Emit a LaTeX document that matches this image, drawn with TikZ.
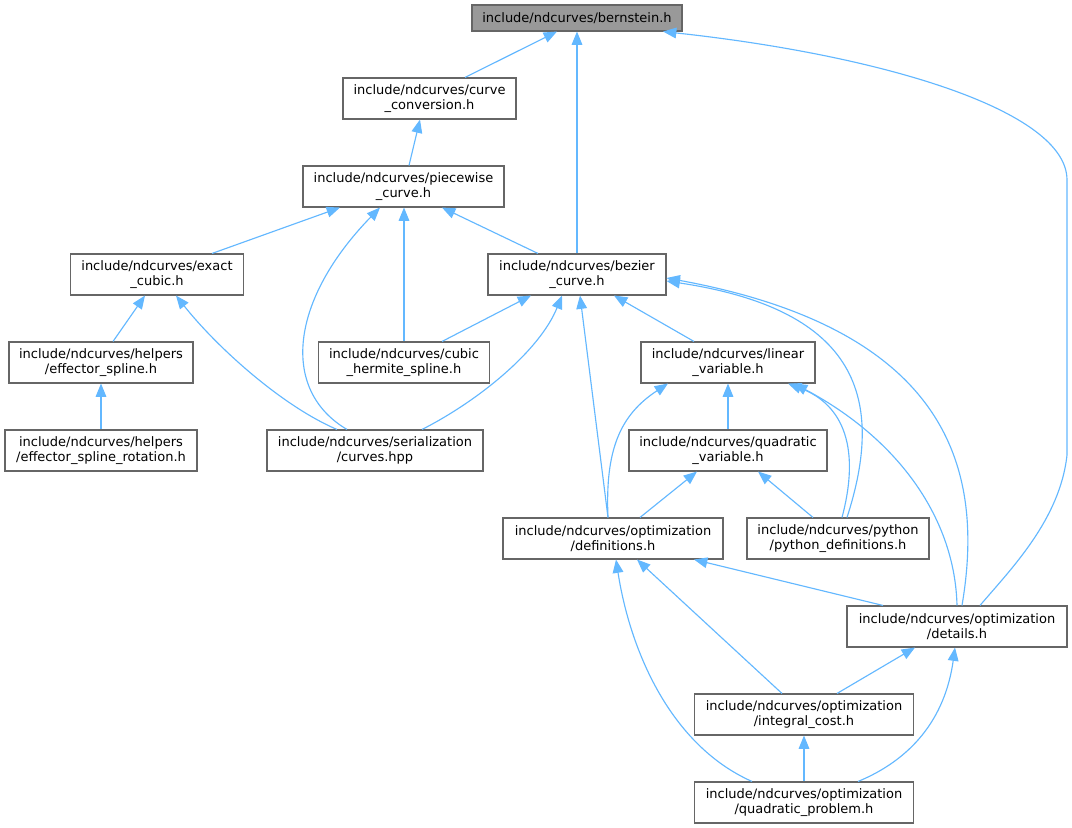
\documentclass[tikz,border=0pt]{standalone}
\usepackage{fontspec}
\setmainfont{DejaVu Sans}
\usetikzlibrary{arrows.meta,calc}
\definecolor{edgec}{HTML}{63B8FF}
\definecolor{boxc}{HTML}{666666}
\definecolor{rootc}{HTML}{999999}
\tikzset{
  box/.style={draw=boxc, line width=0.8pt, fill=white, align=center, inner sep=0pt,
    minimum height=30.75pt, font=\fontsize{9.75}{11}\selectfont, text=black},
  rootbox/.style={box, fill=rootc, minimum height=19.5pt},
  edge/.style={draw=edgec, line width=0.85pt, -{Triangle[length=10pt,width=8pt]}}
}
\begin{document}
\begin{tikzpicture}[x=0.75pt,y=-0.75pt]
\useasboundingbox (0,0) rectangle (1072,828);
\fill[white] (0,0) rectangle (1072,828);
% nodes
\node[rootbox, minimum width=157.5pt] (bern) at (577,18) {include/ndcurves/bernstein.h};
\node[box, minimum width=129.75pt] (cc) at (429.5,98.5) {include/ndcurves/curve\\\_conversion.h};
\node[box, minimum width=150.75pt] (pw) at (403.5,186.5) {include/ndcurves/piecewise\\\_curve.h};
\node[box, minimum width=129.75pt] (ex) at (157,274.5) {include/ndcurves/exact\\\_cubic.h};
\node[box, minimum width=133.5pt] (bz) at (577,274.5) {include/ndcurves/bezier\\\_curve.h};
\node[box, minimum width=138pt] (es) at (101,362.5) {include/ndcurves/helpers\\/effector\_spline.h};
\node[box, minimum width=128.25pt] (ch) at (404,362.5) {include/ndcurves/cubic\\\_hermite\_spline.h};
\node[box, minimum width=130.5pt] (lv) at (728,362.5) {include/ndcurves/linear\\\_variable.h};
\node[box, minimum width=144pt] (esr) at (101,450.5) {include/ndcurves/helpers\\/effector\_spline\_rotation.h};
\node[box, minimum width=162pt] (ser) at (375,450.5) {include/ndcurves/serialization\\/curves.hpp};
\node[box, minimum width=148.5pt] (qv) at (728,450.5) {include/ndcurves/quadratic\\\_variable.h};
\node[box, minimum width=165pt] (def) at (613,538.5) {include/ndcurves/optimization\\/definitions.h};
\node[box, minimum width=136.5pt] (py) at (838,538.5) {include/ndcurves/python\\/python\_definitions.h};
\node[box, minimum width=165pt] (det) at (957,626.5) {include/ndcurves/optimization\\/details.h};
\node[box, minimum width=164.25pt] (ic) at (804,714.5) {include/ndcurves/optimization\\/integral\_cost.h};
\node[box, minimum width=164.25pt] (qp) at (804,802.5) {include/ndcurves/optimization\\/quadratic\_problem.h};
% edges
\draw[edge] ($(cc.north)+(35.5,0)$) -- ($(bern.south)+(-20,0)$);
\draw[edge] (bz.north) -- (bern.south);
\draw[edge] ($(det.north)+(23,0)$) .. controls (1010,570) and (1060,520) .. (1067,455)
  -- (1067,180) .. controls (1067,110) and (880,55) .. ($(bern.south)+(86,0)$);
\draw[edge] ($(pw.north)+(5.5,0)$) -- ($(cc.south)+(-9.5,0)$);
\draw[edge] ($(ex.north)+(55,0)$) -- ($(pw.south)+(-63.5,0)$);
\draw[edge] ($(ser.north)+(-28,0)$) .. controls (280,390) and (290,300) .. ($(pw.south)+(-23.5,0)$);
\draw[edge] (ch.north) -- (ch.north |- pw.south);
\draw[edge] ($(bz.north)+(-39,0)$) -- ($(pw.south)+(38.5,0)$);
\draw[edge] ($(es.north)+(12,0)$) -- ($(ex.south)+(-12,0)$);
\draw[edge] ($(ser.north)+(-38,0)$) .. controls (280,405) and (215,345) .. ($(ex.south)+(19,0)$);
\draw[edge] (esr.north) -- (es.south);
\draw[edge] ($(ch.north)+(38,0)$) -- ($(bz.south)+(-46,0)$);
\draw[edge] ($(ser.north)+(47,0)$) .. controls (480,400) and (540,350) .. ($(bz.south)+(-15,0)$);
\draw[edge] ($(def.north)+(-5,0)$) -- ($(bz.south)+(3,0)$);
\draw[edge] ($(lv.north)+(-34,0)$) -- ($(bz.south)+(37,0)$);
\draw[edge] ($(py.north)+(9,0)$) .. controls (885,400) and (860,310) .. ($(bz.east)+(0,6.5)$);
\draw[edge] ($(det.north)+(5,0)$) .. controls (985,470) and (950,330) .. ($(bz.east)+(0,3.5)$);
\draw[edge] (qv.north) -- (lv.south);
\draw[edge] ($(def.north)+(-5,0)$) .. controls (605,450) and (620,415) .. ($(lv.south)+(-60,0)$);
\draw[edge] ($(py.north)+(4,0)$) .. controls (860,450) and (845,405) .. ($(lv.south)+(60,0)$);
\draw[edge] (det.north) .. controls (955,520) and (900,440) .. ($(lv.south)+(66,0)$);
\draw[edge] ($(def.north)+(27,0)$) -- ($(qv.south)+(-31,0)$);
\draw[edge] ($(py.north)+(-25,0)$) -- ($(qv.south)+(30,0)$);
\draw[edge] ($(det.north)+(-74,0)$) -- ($(def.south)+(81,0)$);
\draw[edge] ($(ic.north)+(-22,0)$) -- ($(def.south)+(24,0)$);
\draw[edge] ($(qp.north)+(-52,0)$) .. controls (670,745) and (630,650) .. ($(def.south)+(3,0)$);
\draw[edge] ($(ic.north)+(33,0)$) -- ($(det.south)+(-42,0)$);
\draw[edge] ($(qp.north)+(54,0)$) .. controls (910,760) and (945,720) .. ($(det.south)+(-2,0)$);
\draw[edge] (qp.north) -- (ic.south);
\end{tikzpicture}
\end{document}
